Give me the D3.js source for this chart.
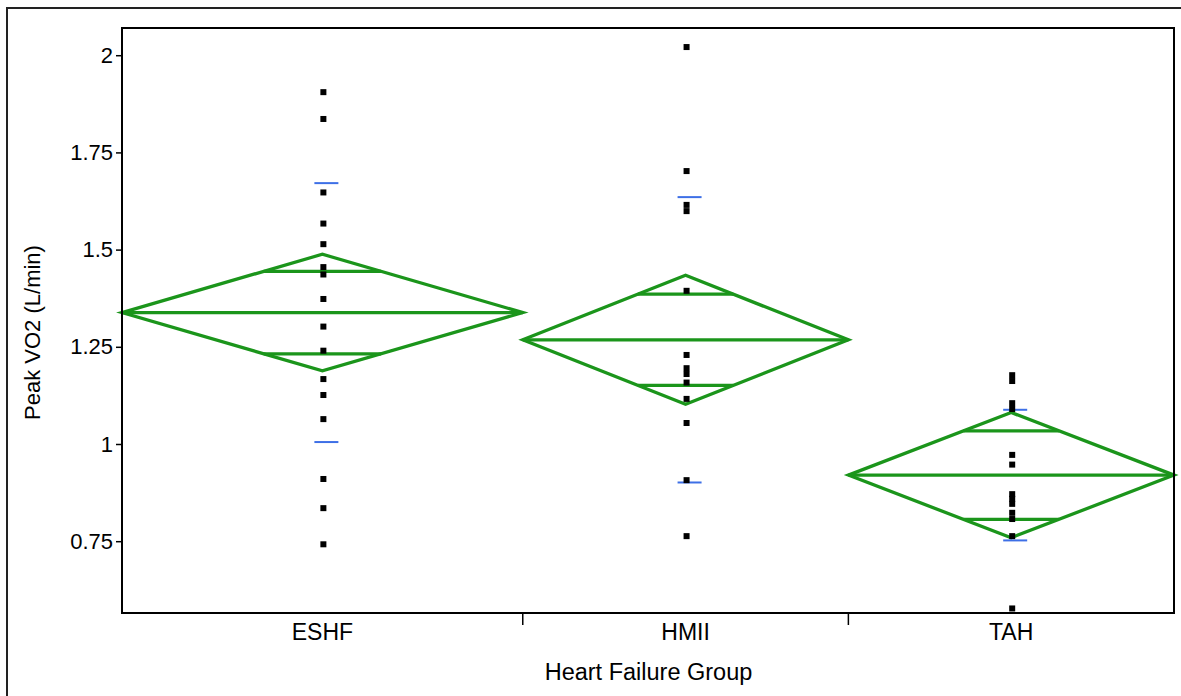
<!DOCTYPE html>
<html>
<head>
<meta charset="utf-8">
<script src="https://cdn.jsdelivr.net/npm/d3@7"></script>
<style>
  body { margin: 0; background: #fff; }
  text { font-family: "Liberation Sans", Arial, sans-serif; fill: #000; }
</style>
</head>
<body>
<svg id="chart" width="1181" height="696"></svg>
<script>
// groups and sample sizes (x band widths follow n, like JMP means diamonds)
const groups = ["ESHF", "HMII", "TAH"]
const counts = [16, 13, 13]

// raw points
const eshfVals = [1.905, 1.836, 1.647, 1.567, 1.514, 1.455, 1.436, 1.373, 1.302, 1.240,
                  1.167, 1.126, 1.064, 0.910, 0.835, 0.742]
const hmiiVals = [2.021, 1.702, 1.615, 1.599, 1.394, 1.229, 1.195, 1.180, 1.158, 1.116,
                  1.054, 0.907, 0.763]
const tahVals  = [1.177, 1.162, 1.105, 1.090, 0.972, 0.947, 0.871, 0.859, 0.846, 0.823,
                  0.807, 0.763, 0.577]

// group summaries (mean, 95% CI half width, std dev)
const groupMeans = [1.338, 1.268, 0.920]
const ciHalf = [0.150, 0.166, 0.161]
const stdDevs = [0.333, 0.367, 0.168]

const yTicks = [0.75, 1, 1.25, 1.5, 1.75, 2]
const yDomain = [0.5653, 2.070]

const W = 1181, H = 696
const plot = {left: 122, top: 28, right: 1174, bottom: 613}
const green = "#1b951b"
const blue = "#3d6fe6"

const Fig = d3.select("#chart")

const yScale = d3.scaleLinear()
    .domain(yDomain)
    .range([plot.bottom, plot.top])

// cumulative x scale: band edges proportional to counts
const total = d3.sum(counts)
const cum = d3.cumsum([0, ...counts])
const xScale = d3.scaleLinear()
    .domain([0, total])
    .range([plot.left, plot.right])

const data = groups.map((g, i) => ({
    name: g,
    x0: xScale(cum[i]),
    x1: xScale(cum[i + 1]),
    cx: (xScale(cum[i]) + xScale(cum[i + 1])) / 2,
    mean: groupMeans[i],
    ci: ciHalf[i],
    sd: stdDevs[i],
    vals: [eshfVals, hmiiVals, tahVals][i]
}))

// outer frame (only left and top visible)
Fig.append("path")
    .attr("d", `M7,${H} V8 H${W}`)
    .attr("fill", "none")
    .attr("stroke", "#222")
    .attr("stroke-width", 2)

// diamonds
const dia = Fig.selectAll(".diamond")
    .data(data)
    .join("g")
    .attr("class", "diamond")

dia.append("path")
    .attr("d", d => `M${d.x0},${yScale(d.mean)} L${d.cx},${yScale(d.mean + d.ci)} L${d.x1},${yScale(d.mean)} L${d.cx},${yScale(d.mean - d.ci)} Z`)
    .attr("fill", "none")
    .attr("stroke", green)
    .attr("stroke-width", 3.3)
    .attr("stroke-linejoin", "miter")

// mean line
dia.append("line")
    .attr("x1", d => d.x0).attr("x2", d => d.x1)
    .attr("y1", d => yScale(d.mean)).attr("y2", d => yScale(d.mean))
    .attr("stroke", green)
    .attr("stroke-width", 3.3)

// overlap marks at mean +/- ci/sqrt(2), touching the diamond edges
const k = 1 / Math.SQRT2
dia.selectAll(".overlap")
    .data(d => [1, -1].map(s => ({...d, s})))
    .join("line")
    .attr("class", "overlap")
    .attr("x1", d => d.cx - (d.cx - d.x0) * (1 - k))
    .attr("x2", d => d.cx + (d.x1 - d.cx) * (1 - k))
    .attr("y1", d => yScale(d.mean + d.s * d.ci * k))
    .attr("y2", d => yScale(d.mean + d.s * d.ci * k))
    .attr("stroke", green)
    .attr("stroke-width", 3.3)

// std dev marks
dia.selectAll(".sd")
    .data(d => [1, -1].map(s => ({...d, s})))
    .join("line")
    .attr("class", "sd")
    .attr("x1", d => d.cx - 8).attr("x2", d => d.cx + 16)
    .attr("y1", d => yScale(d.mean + d.s * d.sd))
    .attr("y2", d => yScale(d.mean + d.s * d.sd))
    .attr("stroke", blue)
    .attr("stroke-width", 2)

// points
dia.selectAll(".pt")
    .data(d => d.vals.map(v => ({cx: d.cx, v})))
    .join("rect")
    .attr("class", "pt")
    .attr("x", d => d.cx + 1 - 3)
    .attr("y", d => yScale(d.v) - 3)
    .attr("width", 6)
    .attr("height", 6)
    .attr("fill", "#000")

// plot frame
Fig.append("rect")
    .attr("x", plot.left).attr("y", plot.top)
    .attr("width", plot.right - plot.left)
    .attr("height", plot.bottom - plot.top)
    .attr("fill", "none")
    .attr("stroke", "#000")
    .attr("stroke-width", 2)

// Y Axis
const y_axis = d3.axisLeft(yScale).tickValues(yTicks).tickSize(6).tickPadding(3)
    .tickFormat(d => d3.format("")(d))
const yg = Fig.append("g")
    .attr("transform", `translate(${plot.left},0)`)
    .call(y_axis)
yg.select(".domain").remove()
yg.selectAll("text").attr("font-size", 22).attr("font-family", "Liberation Sans, Arial, sans-serif")
yg.selectAll("line").attr("stroke", "#000").attr("stroke-width", 1.5)

// X ticks between groups
Fig.selectAll(".xsep")
    .data(data.slice(1))
    .join("line")
    .attr("class", "xsep")
    .attr("x1", d => d.x0).attr("x2", d => d.x0)
    .attr("y1", plot.bottom).attr("y2", plot.bottom + 12)
    .attr("stroke", "#000")
    .attr("stroke-width", 1.5)

Fig.selectAll(".xlab")
    .data(data)
    .join("text")
    .attr("class", "xlab")
    .attr("x", d => d.cx)
    .attr("y", 640)
    .attr("text-anchor", "middle")
    .attr("font-size", 23)
    .text(d => d.name)

// Labels
Fig.append("text")
    .attr("x", (plot.left + plot.right) / 2 + 0.5)
    .attr("y", 680)
    .attr("text-anchor", "middle")
    .attr("font-size", 23.5)
    .text("Heart Failure Group")

Fig.append("g")
    .attr("transform", `translate(40,${(plot.top + plot.bottom) / 2 + 12}) rotate(-90)`)
    .append("text")
    .attr("text-anchor", "middle")
    .attr("font-size", 22)
    .text("Peak VO2 (L/min)")
</script>
</body>
</html>
